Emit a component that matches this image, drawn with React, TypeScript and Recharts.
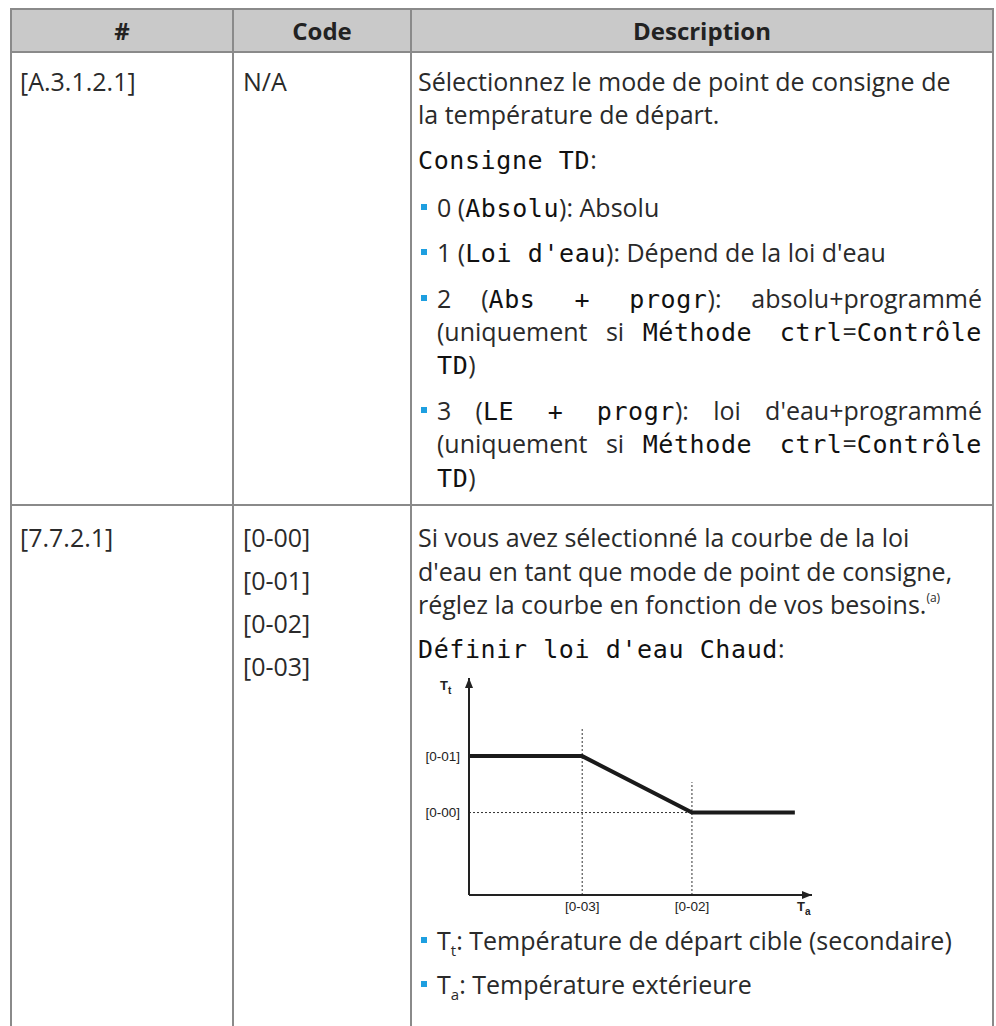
import React from 'react'
import { LineChart, Line, XAxis, YAxis, ReferenceLine, Label } from 'recharts'

// ─── courbe loi d'eau (unités arbitraires, 0..100) ───
const taPoints = [0, 33, 65, 95]
const ttPoints = [64, 64, 38, 38]
const xTicks = [33, 65]
const xTickLabels = ['[0-03]', '[0-02]']
const yTicks = [38, 64]
const yTickLabels = ['[0-00]', '[0-01]']
const guideTops = [77, 52]

const curveData = taPoints.map((ta, i) => ({ ta, tt: ttPoints[i] }))

const BODY = '"Open Sans", "Noto Sans", sans-serif'
const MONO = '"DejaVu Sans Mono", "Liberation Mono", monospace'
const ARIAL = '"Liberation Sans", Arial, sans-serif'
const INK = '#2a2a2a'
const RULE = '#8a8a8a'
const BULLET = '#1e9fe0'

const M = ({ children }: any) => (
  <span style={{ fontFamily: MONO, fontSize: 25, letterSpacing: 0.6, color: '#111' }}>{children}</span>
)

const Txt = ({ x, y, w, justify, size = 25, children, style }: any) => (
  <div
    style={{
      position: 'absolute',
      left: x,
      top: y - 17,
      height: 34,
      lineHeight: '34px',
      width: w,
      whiteSpace: justify ? 'normal' : 'nowrap',
      textAlign: justify ? 'justify' : 'left',
      textAlignLast: justify ? 'justify' : undefined,
      fontSize: size,
      ...style
    }}
  >
    {children}
  </div>
)

const Bullet = ({ y }: { y: number }) => (
  <div style={{ position: 'absolute', left: 421, top: y - 3, width: 6, height: 6, background: BULLET }} />
)

const HLine = ({ y }: { y: number }) => (
  <div style={{ position: 'absolute', left: 10, top: y - 1, width: 984, height: 2, background: RULE }} />
)
const VLine = ({ x }: { x: number }) => (
  <div style={{ position: 'absolute', left: x - 1, top: 8, width: 2, height: 1030, background: RULE }} />
)

const AxisTitle = ({ viewBox, sub, dx, dy }: any) => {
  if (!viewBox) return null
  return (
    <text
      x={viewBox.x + viewBox.width + dx}
      y={viewBox.y + dy}
      fontFamily={ARIAL}
      fontWeight={700}
      fontSize={13}
      fill="#222"
    >
      T
      <tspan dy={4} fontSize={10}>{sub}</tspan>
    </text>
  )
}

function CurveChart() {
  return (
    <div style={{ position: 'absolute', left: 412, top: 660 }}>
      <LineChart width={420} height={265} data={curveData} margin={{ top: 18, right: 20, bottom: 5, left: 7 }}>
        <XAxis
          dataKey="ta"
          type="number"
          domain={[0, 100]}
          ticks={xTicks}
          interval={0}
          tickFormatter={(v: number) => xTickLabels[xTicks.indexOf(v)]}
          tickSize={0}
          tickMargin={6}
          height={25}
          tickLine={false}
          axisLine={{ stroke: '#222', strokeWidth: 2, markerEnd: 'url(#arrowHead)' }}
          tick={{ fill: '#222', fontSize: 13.5, fontFamily: ARIAL }}
        >
          <Label content={(p: any) => <AxisTitle viewBox={p.viewBox} sub="a" dx={-15} dy={16} />} />
        </XAxis>
        <YAxis
          type="number"
          domain={[0, 100]}
          ticks={yTicks}
          interval={0}
          tickFormatter={(v: number) => yTickLabels[yTicks.indexOf(v)]}
          tickSize={0}
          tickMargin={9}
          width={50}
          tickLine={false}
          axisLine={{ stroke: '#222', strokeWidth: 2, markerStart: 'url(#arrowHead)' }}
          tick={{ fill: '#222', fontSize: 13.5, fontFamily: ARIAL }}
        >
          <Label content={(p: any) => <AxisTitle viewBox={p.viewBox} sub="t" dx={-29} dy={12} />} />
        </YAxis>
        {xTicks.map((x, i) => (
          <ReferenceLine
            key={x}
            segment={[{ x, y: 0 }, { x, y: guideTops[i] }]}
            stroke="#333"
            strokeWidth={1}
            strokeDasharray="2 2"
          />
        ))}
        <ReferenceLine
          segment={[{ x: 0, y: yTicks[0] }, { x: xTicks[1], y: yTicks[0] }]}
          stroke="#333"
          strokeWidth={1}
          strokeDasharray="2 2"
        />
        <Line
          dataKey="tt"
          type="linear"
          stroke="#1a1a1a"
          strokeWidth={4}
          dot={false}
          activeDot={false}
          isAnimationActive={false}
        />
      </LineChart>
    </div>
  )
}

export default function App() {
  return (
    <div
      style={{
        position: 'absolute',
        left: 0,
        top: 0,
        width: 996,
        height: 1026,
        overflow: 'hidden',
        background: '#fff',
        fontFamily: BODY,
        color: INK
      }}
    >
      <svg width={0} height={0} style={{ position: 'absolute' }}>
        <defs>
          <marker
            id="arrowHead"
            viewBox="0 0 10 8"
            refX={10}
            refY={4}
            markerWidth={10}
            markerHeight={8}
            markerUnits="userSpaceOnUse"
            orient="auto-start-reverse"
          >
            <path d="M0,0 L10,4 L0,8 z" fill="#222" />
          </marker>
        </defs>
      </svg>

      {/* en-tête */}
      <div style={{ position: 'absolute', left: 11, top: 9, width: 982, height: 43, background: '#c9c9c9' }} />
      <Txt x={11} y={31} w={222} size={24} style={{ textAlign: 'center', fontWeight: 700, color: '#222' }}>#</Txt>
      <Txt x={233} y={31} w={178} size={24} style={{ textAlign: 'center', fontWeight: 700, color: '#222' }}>Code</Txt>
      <Txt x={411} y={31} w={582} size={24} style={{ textAlign: 'center', fontWeight: 700, color: '#222' }}>Description</Txt>

      <HLine y={9} />
      <HLine y={52} />
      <HLine y={505} />
      <VLine x={11} />
      <VLine x={233} />
      <VLine x={411} />
      <VLine x={993} />

      {/* ligne A.3.1.2.1 */}
      <Txt x={20} y={81}>[A.3.1.2.1]</Txt>
      <Txt x={243} y={81}>N/A</Txt>
      <Txt x={418} y={81}>Sélectionnez le mode de point de consigne de</Txt>
      <Txt x={418} y={114}>la température de départ.</Txt>
      <Txt x={418} y={159}><M>Consigne TD</M>:</Txt>

      <Bullet y={207} />
      <Txt x={437} y={207}>0 (<M>Absolu</M>): Absolu</Txt>
      <Bullet y={252} />
      <Txt x={437} y={252}>1 (<M>Loi d'eau</M>): Dépend de la loi d'eau</Txt>
      <Bullet y={298} />
      <Txt x={437} y={298} w={545} justify>2 (<M>Abs + progr</M>): absolu+programmé</Txt>
      <Txt x={437} y={331} w={545} justify>(uniquement si <M>Méthode ctrl</M>=<M>Contrôle</M></Txt>
      <Txt x={437} y={364}><M>TD</M>)</Txt>
      <Bullet y={410} />
      <Txt x={437} y={410} w={545} justify>3 (<M>LE + progr</M>): loi d'eau+programmé</Txt>
      <Txt x={437} y={443} w={545} justify>(uniquement si <M>Méthode ctrl</M>=<M>Contrôle</M></Txt>
      <Txt x={437} y={477}><M>TD</M>)</Txt>

      {/* ligne 7.7.2.1 */}
      <Txt x={20} y={537}>[7.7.2.1]</Txt>
      <Txt x={243} y={537}>[0-00]</Txt>
      <Txt x={243} y={580}>[0-01]</Txt>
      <Txt x={243} y={623}>[0-02]</Txt>
      <Txt x={243} y={666}>[0-03]</Txt>
      <Txt x={418} y={537}>Si vous avez sélectionné la courbe de la loi</Txt>
      <Txt x={418} y={571}>d'eau en tant que mode de point de consigne,</Txt>
      <Txt x={418} y={604}>
        réglez la courbe en fonction de vos besoins.
        <sup style={{ fontSize: 12, verticalAlign: 'top', lineHeight: '22px' }}>(a)</sup>
      </Txt>
      <Txt x={418} y={648}><M>Définir loi d'eau Chaud</M>:</Txt>

      <CurveChart />

      <Bullet y={940} />
      <Txt x={437} y={940}>T<sub style={{ fontSize: 15, lineHeight: 0 }}>t</sub>: Température de départ cible (secondaire)</Txt>
      <Bullet y={984} />
      <Txt x={437} y={984}>T<sub style={{ fontSize: 15, lineHeight: 0 }}>a</sub>: Température extérieure</Txt>
    </div>
  )
}
